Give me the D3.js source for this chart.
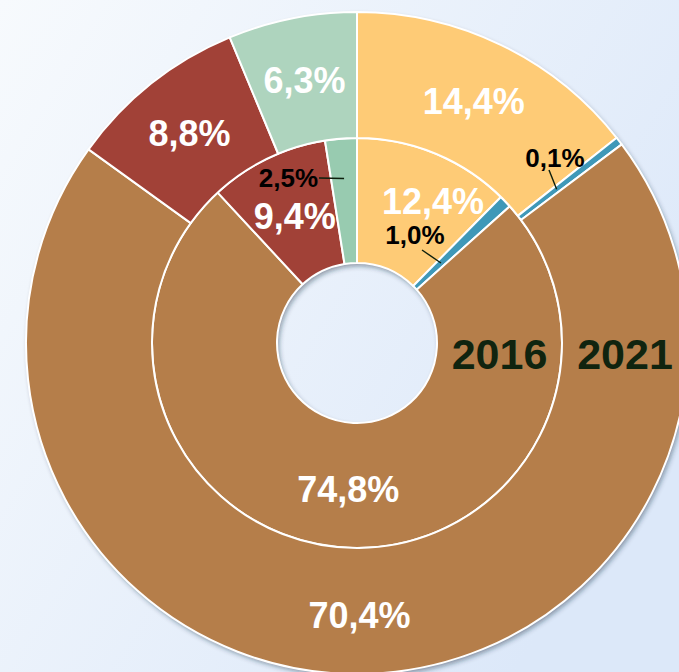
<!DOCTYPE html>
<html>
<head>
<meta charset="utf-8">
<script src="https://cdn.jsdelivr.net/npm/d3@7"></script>
<style>
  html, body { margin: 0; padding: 0; }
  body { width: 679px; height: 672px; overflow: hidden; }
  text { font-family: "Liberation Sans", Arial, sans-serif; font-weight: bold; }
</style>
</head>
<body>
<svg id="chart"></svg>
<script>
// chart size
const width = 679;
const height = 672;
const cx = 357, cy = 343;
const rHole = 80, rMid = 205, rOuter = 331;

// data: slice order clockwise from 12 o'clock
const categories = ["orange", "blue", "brown", "red", "green"];
const values2016 = [12.4, 1.0, 74.8, 9.4, 2.5];
const values2021 = [14.4, 0.4, 70.4, 8.8, 6.3]; // blue slice is drawn wider than its 0,1% label
const labels2016 = ["12,4%", "1,0%", "74,8%", "9,4%", "2,5%"];
const labels2021 = ["14,4%", "0,1%", "70,4%", "8,8%", "6,3%"];
const years = ["2016", "2021"];

const colors2016 = ["#FECB76", "#3F98B8", "#B57E4A", "#A14137", "#98CBB0"];
const colors2021 = ["#FECB76", "#3F98B8", "#B57E4A", "#A14137", "#AED4BE"];

const svg = d3.select("#chart")
  .attr("width", width)
  .attr("height", height);

// background gradient
const defs = svg.append("defs");
const grad = defs.append("linearGradient")
  .attr("id", "bg")
  .attr("x1", "0%").attr("y1", "0%")
  .attr("x2", "100%").attr("y2", "60%");
grad.append("stop").attr("offset", "0%").attr("stop-color", "#F7FAFD");
grad.append("stop").attr("offset", "100%").attr("stop-color", "#DCE8F9");

const shadow = defs.append("filter")
  .attr("id", "shadow")
  .attr("x", "-10%").attr("y", "-10%")
  .attr("width", "120%").attr("height", "120%");
shadow.append("feDropShadow")
  .attr("dx", 2).attr("dy", 3)
  .attr("stdDeviation", 2.5)
  .attr("flood-color", "#1a2a40")
  .attr("flood-opacity", 0.45);

svg.append("rect")
  .attr("width", width)
  .attr("height", height)
  .attr("fill", "url(#bg)");

const g = svg.append("g").attr("transform", `translate(${cx},${cy})`);

const pie = d3.pie().sort(null).value(d => d);

const innerArc = d3.arc().innerRadius(rHole).outerRadius(rMid);
const outerArc = d3.arc().innerRadius(rMid).outerRadius(rOuter);

// shadow under the rings
g.append("path")
  .attr("d", d3.arc().innerRadius(rHole).outerRadius(rOuter)({ startAngle: 0, endAngle: 2 * Math.PI }))
  .attr("fill", "#B57E4A")
  .attr("filter", "url(#shadow)");

const pies2016 = pie(values2016);
const pies2021 = pie(values2021);

g.selectAll("path.inner")
  .data(pies2016)
  .join("path")
  .attr("class", "inner")
  .attr("d", innerArc)
  .attr("fill", (d, i) => colors2016[i])
  .attr("stroke", "#fff")
  .attr("stroke-width", 2)
  .attr("stroke-linejoin", "round");

g.selectAll("path.outer")
  .data(pies2021)
  .join("path")
  .attr("class", "outer")
  .attr("d", outerArc)
  .attr("fill", (d, i) => colors2021[i])
  .attr("stroke", "#fff")
  .attr("stroke-width", 2)
  .attr("stroke-linejoin", "round");

// big white labels at the arc centroids (index of the small ones skipped)
const bigInner = [0, 2, 3];
const bigOuter = [0, 2, 3, 4];
const nudge2016 = { 0: [22, -10], 2: [-2, 4], 3: [0, 1] };
const nudge2021 = { 0: [0, -1], 2: [0, 4], 3: [-1, 0], 4: [0, 0] };

function bigLabel(arc, d, text, nudge) {
  const c = arc.centroid(d);
  const n = nudge || [0, 0];
  g.append("text")
    .attr("x", c[0] + n[0])
    .attr("y", c[1] + n[1])
    .attr("dy", "0.36em")
    .attr("text-anchor", "middle")
    .attr("fill", "#fff")
    .style("font-size", "36px")
    .text(text);
}

bigInner.forEach(i => bigLabel(innerArc, pies2016[i], labels2016[i], nudge2016[i]));
bigOuter.forEach(i => bigLabel(outerArc, pies2021[i], labels2021[i], nudge2021[i]));

// small black labels with leader lines
function midAngle(d) { return (d.startAngle + d.endAngle) / 2; }
function polar(a, r) { return [r * Math.sin(a), -r * Math.cos(a)]; }

const smallLabels = [
  { d: pies2021[1], text: labels2021[1], pos: [198, -185], anchor: "middle", from: [192, -173], r: 252 },
  { d: pies2016[1], text: labels2016[1], pos: [58, -108], anchor: "middle", from: [65, -93], r: 116 },
  { d: pies2016[4], text: labels2016[4], pos: [-39, -165], anchor: "end", from: [-38, -165], r: 165 }
];

smallLabels.forEach(s => {
  const end = polar(midAngle(s.d), s.r);
  g.append("line")
    .attr("x1", s.from[0]).attr("y1", s.from[1])
    .attr("x2", end[0]).attr("y2", end[1])
    .attr("stroke", "#0d1f0d")
    .attr("stroke-width", 1.4);
  g.append("text")
    .attr("x", s.pos[0])
    .attr("y", s.pos[1])
    .attr("dy", "0.36em")
    .attr("text-anchor", s.anchor)
    .attr("fill", "#000")
    .style("font-size", "26px")
    .text(s.text);
});

// ring names on the right side
const ringRadius = [(rHole + rMid) / 2, (rMid + rOuter) / 2];
years.forEach((y, i) => {
  g.append("text")
    .attr("x", ringRadius[i])
    .attr("y", 11)
    .attr("dy", "0.36em")
    .attr("text-anchor", "middle")
    .attr("fill", "#10240F")
    .style("font-size", "43px")
    .text(y);
});
</script>
</body>
</html>
